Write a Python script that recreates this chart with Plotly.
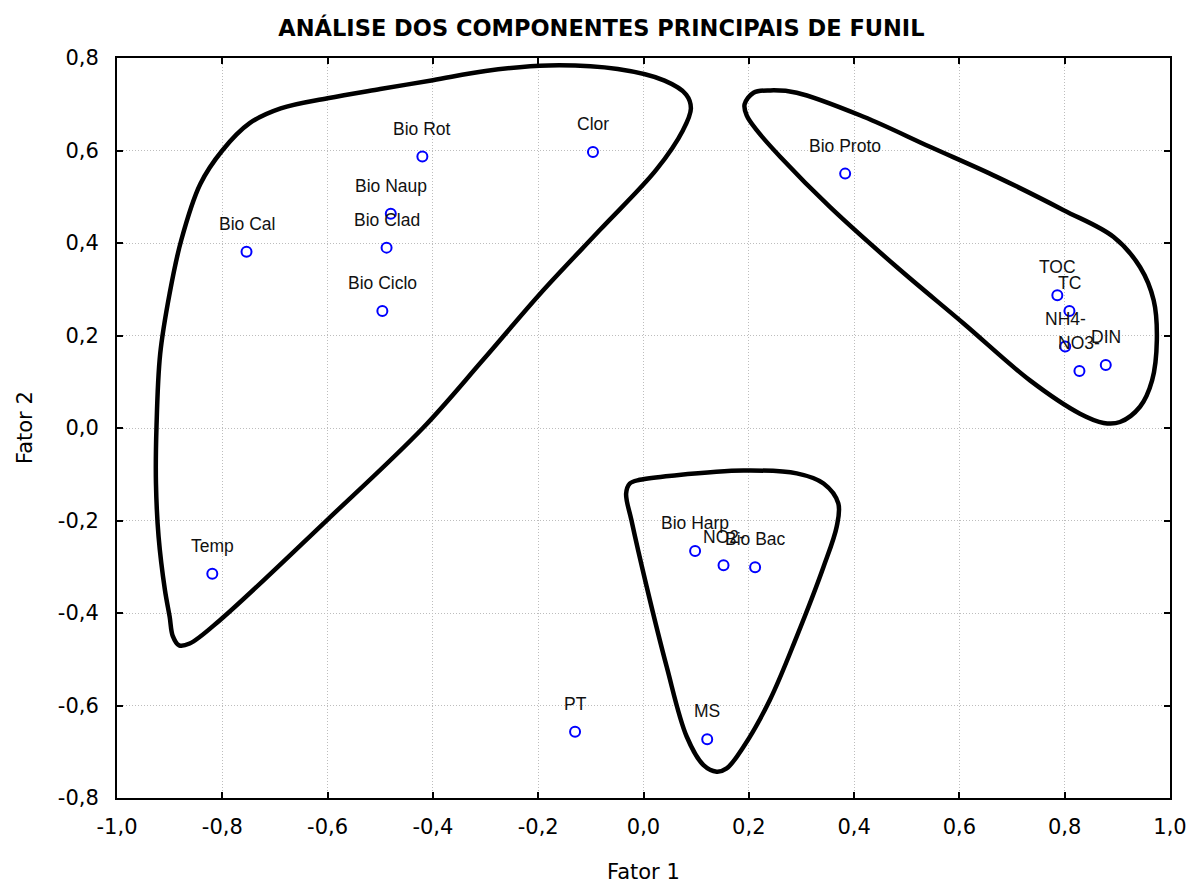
import plotly.graph_objects as go

# ---- data ----
labels = ["Bio Rot", "Clor", "Bio Proto", "Bio Naup", "Bio Clad", "Bio Cal", "Bio Ciclo",
          "TOC", "TC", "NH4-", "NO3-", "DIN", "Temp", "Bio Harp", "NO2-", "Bio Bac", "PT", "MS"]
fator1 = [-0.420, -0.096, 0.383, -0.480, -0.488, -0.754, -0.496,
          0.786, 0.809, 0.801, 0.828, 0.878, -0.819, 0.098, 0.152, 0.212, -0.130, 0.121]
fator2 = [0.587, 0.597, 0.550, 0.463, 0.390, 0.381, 0.253,
          0.287, 0.253, 0.176, 0.123, 0.136, -0.315, -0.266, -0.297, -0.301, -0.657, -0.673]

# group outlines (control points of the hand-drawn curves)
hull_a_x = [-0.419, -0.305, -0.195, -0.083, 0.024, 0.075, 0.090, 0.081, 0.040, -0.049, -0.180,
            -0.300, -0.400, -0.500, -0.600, -0.689, -0.748, -0.800, -0.842, -0.878, -0.900, -0.918,
            -0.925, -0.926, -0.921, -0.909, -0.900, -0.894, -0.882, -0.862, -0.804, -0.601, -0.419]
hull_a_y = [0.000, 0.147, 0.292, 0.428, 0.558, 0.644, 0.691, 0.721, 0.751, 0.776, 0.784,
            0.772, 0.752, 0.733, 0.713, 0.691, 0.659, 0.600, 0.527, 0.406, 0.291, 0.160,
            0.002, -0.120, -0.235, -0.350, -0.408, -0.450, -0.470, -0.466, -0.415, -0.199, 0.000]
hull_b_x = [0.481, 0.354, 0.260, 0.215, 0.196, 0.192, 0.209, 0.241, 0.291, 0.418, 0.544, 0.671, 0.798,
            0.893, 0.943, 0.969, 0.975, 0.966, 0.943, 0.905, 0.874, 0.829, 0.734, 0.608, 0.481]
hull_b_y = [0.348, 0.478, 0.586, 0.644, 0.676, 0.700, 0.725, 0.730, 0.725, 0.673, 0.608, 0.543, 0.471,
            0.413, 0.348, 0.276, 0.190, 0.103, 0.046, 0.013, 0.011, 0.031, 0.103, 0.226, 0.348]
hull_c_x = [0.006, -0.023, -0.033, -0.026, -0.007, 0.063, 0.190, 0.291, 0.342, 0.370, 0.367, 0.342,
            0.291, 0.240, 0.190, 0.158, 0.139, 0.114, 0.082, 0.044, 0.006]
hull_c_y = [-0.343, -0.199, -0.142, -0.120, -0.112, -0.102, -0.092, -0.098, -0.120, -0.163, -0.213, -0.300,
            -0.451, -0.588, -0.689, -0.736, -0.743, -0.729, -0.667, -0.516, -0.343]

x_tick_vals = [-1.0, -0.8, -0.6, -0.4, -0.2, 0.0, 0.2, 0.4, 0.6, 0.8, 1.0]
x_tick_text = ["-1,0", "-0,8", "-0,6", "-0,4", "-0,2", "0,0", "0,2", "0,4", "0,6", "0,8", "1,0"]
y_tick_vals = [-0.8, -0.6, -0.4, -0.2, 0.0, 0.2, 0.4, 0.6, 0.8]
y_tick_text = ["-0,8", "-0,6", "-0,4", "-0,2", "0,0", "0,2", "0,4", "0,6", "0,8"]

title_text = "ANÁLISE DOS COMPONENTES PRINCIPAIS DE FUNIL"
x_title = "Fator 1"
y_title = "Fator 2"

fig = go.Figure()

for hx, hy in [(hull_a_x, hull_a_y), (hull_b_x, hull_b_y), (hull_c_x, hull_c_y)]:
    fig.add_trace(go.Scatter(x=hx, y=hy, mode="lines",
                             line=dict(color="black", width=4.5, shape="spline", smoothing=1.0),
                             hoverinfo="skip", showlegend=False))

fig.add_trace(go.Scatter(x=fator1, y=fator2, mode="markers",
                         marker=dict(symbol="circle-open", size=10, color="#0000FF",
                                     line=dict(width=2, color="#0000FF")),
                         showlegend=False))

for lab, xv, yv in zip(labels, fator1, fator2):
    fig.add_annotation(x=xv, y=yv, text=lab, showarrow=False, yshift=28,
                       font=dict(family="Liberation Sans", size=17.5, color="#111111"),
                       xanchor="center", yanchor="middle")

axis_font = dict(family="DejaVu Sans", size=21, color="black")

fig.update_xaxes(range=[-1.0, 1.0], tickvals=x_tick_vals, ticktext=x_tick_text,
                 showline=True, linecolor="black", linewidth=2, mirror="ticks",
                 ticks="inside", ticklen=6, tickwidth=2, tickcolor="black",
                 showgrid=True, gridcolor="#bdbdbd", gridwidth=1, griddash="1px,2px",
                 zeroline=False, tickfont=axis_font, ticklabelstandoff=9, automargin=False)
fig.update_yaxes(range=[-0.8, 0.8], tickvals=y_tick_vals, ticktext=y_tick_text,
                 showline=True, linecolor="black", linewidth=2, mirror="ticks",
                 ticks="inside", ticklen=6, tickwidth=2, tickcolor="black",
                 showgrid=True, gridcolor="#bdbdbd", gridwidth=1, griddash="1px,2px",
                 zeroline=False, tickfont=axis_font, ticklabelstandoff=12, automargin=False)

fig.add_annotation(x=0.5, y=0, xref="paper", yref="paper", text=x_title, showarrow=False,
                   yshift=-74, xanchor="center", yanchor="middle", font=axis_font)
fig.add_annotation(x=0, y=0.5, xref="paper", yref="paper", text=y_title, showarrow=False,
                   xshift=-92, textangle=-90, xanchor="center", yanchor="middle", font=axis_font)

fig.update_layout(
    width=1191, height=884,
    margin=dict(l=117, r=21, t=58, b=86, autoexpand=False),
    paper_bgcolor="white", plot_bgcolor="white",
    title=dict(text="<b>" + title_text + "</b>", x=0.505, xref="container", xanchor="center",
               y=1 - 28 / 884, yref="container", yanchor="middle",
               font=dict(family="DejaVu Sans", size=22.5, color="black")),
)

fig.write_html("out.html")
